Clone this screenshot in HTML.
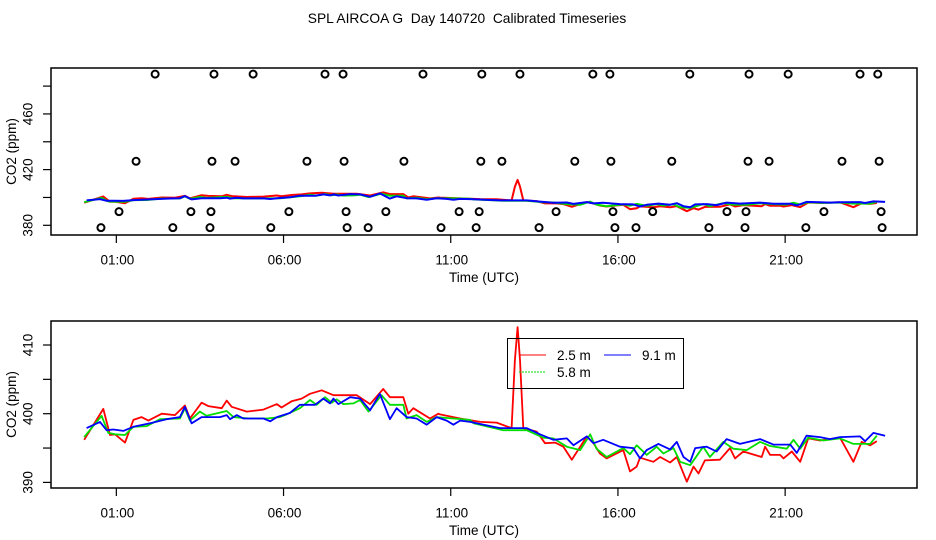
<!DOCTYPE html>
<html><head><meta charset="utf-8"><style>
html,body{margin:0;padding:0;background:#fff;}
svg{display:block;font-family:"Liberation Sans",Arial,sans-serif;}
</style></head><body>
<svg id="chart" width="936" height="540" viewBox="0 0 936 540" xmlns="http://www.w3.org/2000/svg">
<text x="467" y="23" text-anchor="middle" font-size="13.8" style="white-space:pre" xml:space="preserve">SPL AIRCOA G  Day 140720  Calibrated Timeseries</text>
<g id="top"></g>
<g id="bot"></g>
</svg>
<script>
// ---- data ----
const xTickHours = [1, 6, 11, 16, 21];
const xTickLabels = ["01:00", "06:00", "11:00", "16:00", "21:00"];
const topYTicks = [380, 400, 420, 440, 460, 480];
const topYLabels = ["380", "", "420", "", "460", ""];
const botYTicks = [390, 395, 400, 405, 410];
const botYLabels = ["390", "", "400", "", "410"];

const redT = [0.04,0.61,0.81,0.96,1.26,1.51,1.75,1.96,2.36,2.75,3.05,3.20,3.55,3.75,4.15,4.30,4.45,4.90,5.40,5.80,5.94,6.24,6.54,6.79,7.14,7.49,8.19,8.59,8.98,9.18,9.58,9.73,9.88,10.38,10.63,10.68,11.28,11.88,12.37,12.82,12.92,13.00,13.07,13.17,13.57,13.82,14.12,14.37,14.62,14.87,15.07,15.27,15.46,15.66,16.16,16.36,16.56,16.66,17.06,17.26,17.56,17.76,18.06,18.26,18.41,18.60,19.05,19.35,19.50,19.75,20.30,20.40,20.55,20.85,20.95,21.20,21.45,21.69,22.04,22.64,23.04,23.29,23.54,23.74];
const redV = [396.2,400.7,396.9,397.0,395.8,399.1,399.5,399.0,400.0,399.8,401.2,399.3,401.6,401.1,400.8,401.9,401.0,400.3,400.6,401.4,400.9,401.8,402.2,402.9,403.4,402.7,402.7,401.4,403.6,402.4,402.4,400.0,400.8,399.3,400.0,399.9,399.3,398.8,398.7,397.9,407.8,412.6,407.8,397.9,397.4,395.7,395.8,395.2,393.3,395.2,396.7,395.7,394.2,393.5,394.7,391.6,392.3,393.6,393.0,393.7,392.9,393.7,390.1,392.3,391.3,393.2,393.3,395.0,393.5,394.5,393.7,395.2,394.0,394.0,393.5,394.5,393.0,396.4,396.1,396.5,393.0,395.9,395.4,396.0];
const greenT = [0.04,0.56,0.76,0.96,1.26,1.51,1.91,2.31,2.90,3.05,3.20,3.50,3.70,4.30,4.50,4.98,5.50,5.89,6.09,6.49,6.79,6.99,7.24,7.44,7.59,7.79,8.09,8.29,8.54,8.93,9.18,9.58,9.68,9.98,10.28,10.58,11.08,11.58,11.68,12.57,13.27,13.77,14.07,14.47,14.87,15.17,15.36,15.66,16.16,16.36,16.56,16.86,17.16,17.36,17.66,17.86,18.16,18.55,18.75,19.15,19.45,19.85,20.25,20.55,21.05,21.25,21.45,21.69,22.14,22.64,23.04,23.54,23.74];
const greenV = [396.6,399.7,397.2,397.0,396.9,398.1,398.2,399.2,399.3,400.8,399.0,400.3,399.7,400.4,399.5,399.3,399.3,399.5,399.9,400.8,402.0,401.3,402.4,401.6,402.1,401.4,401.5,402.0,400.3,402.7,401.3,401.3,399.3,399.8,398.8,399.5,399.3,399.1,398.6,397.6,397.6,396.5,396.4,395.2,394.7,397.0,394.9,393.7,395.0,394.1,395.4,394.0,395.2,394.2,395.0,393.0,392.5,395.2,393.7,395.9,394.9,394.7,395.9,395.3,394.9,396.2,394.9,396.5,396.1,396.4,395.6,395.6,396.8];
const blueT = [0.11,0.51,0.71,0.91,1.21,1.51,2.01,2.50,2.90,3.05,3.25,3.55,4.10,4.30,4.40,4.60,4.80,5.40,5.60,5.80,6.19,6.49,6.94,7.19,7.39,7.49,7.64,7.99,8.29,8.59,8.88,9.18,9.38,9.68,9.98,10.28,10.58,10.88,11.08,11.28,11.58,12.47,13.27,13.67,14.07,14.47,14.67,15.07,15.27,15.56,16.06,16.46,16.66,16.86,17.21,17.56,17.76,17.96,18.16,18.31,18.65,18.95,19.25,19.65,20.25,20.65,21.15,21.35,21.64,22.04,22.34,22.64,23.24,23.39,23.64,23.99];
const blueV = [397.9,398.8,397.6,397.7,397.5,398.1,398.6,399.2,399.5,401.0,398.6,399.5,399.5,399.8,399.2,399.8,399.3,399.3,398.9,399.5,400.1,401.3,401.3,402.2,401.5,402.2,401.4,402.4,402.2,400.5,402.9,399.2,400.8,399.5,399.3,398.4,399.5,399.0,398.4,399.0,398.8,397.9,397.9,397.0,396.2,396.4,395.4,396.7,395.7,396.2,395.2,395.0,393.5,394.7,395.6,394.8,395.9,393.7,393.0,395.0,395.2,394.5,396.3,395.6,396.3,395.5,395.5,394.3,396.8,396.6,396.3,396.6,396.7,396.0,397.2,396.8];

const flagT = [2.16,3.92,5.09,7.24,7.78,10.17,11.93,13.07,15.25,15.76,18.15,19.92,21.09,23.24,23.77,
  1.59,3.86,4.55,6.70,7.81,9.60,11.90,12.53,14.71,15.79,17.61,19.89,20.52,22.70,23.81,
  1.08,3.23,3.83,6.16,7.87,9.06,11.25,11.85,14.15,15.85,17.04,19.26,19.83,22.16,23.87,
  0.54,2.69,3.80,5.62,7.90,8.53,10.71,11.76,13.64,15.91,16.54,18.72,19.80,21.62,23.90];
const flagV = [488.6,488.6,488.6,488.6,488.6,488.6,488.6,488.6,488.6,488.6,488.6,488.6,488.6,488.6,488.6,
  426,426,426,426,426,426,426,426,426,426,426,426,426,426,426,
  389.8,389.8,389.8,389.8,389.8,389.8,389.8,389.8,389.8,389.8,389.8,389.8,389.8,389.8,389.8,
  378.3,378.3,378.3,378.3,378.3,378.3,378.3,378.3,378.3,378.3,378.3,378.3,378.3,378.3,378.3];

// ---- drawing ----
const NS = "http://www.w3.org/2000/svg";
function mk(parent, tag, attrs, text){
  const e = document.createElementNS(NS, tag);
  for (const k in attrs) e.setAttribute(k, attrs[k]);
  if (text !== undefined) e.textContent = text;
  parent.appendChild(e); return e;
}
const X0 = 51, X1 = 917;
const xs = h => 82.9 + h * 33.44;

function panel(g, top, bottom, yScale, yTicks, yLabels, lw){
  const box = mk(g, "rect", {x:X0, y:top, width:X1-X0, height:bottom-top, fill:"none", stroke:"#000", "stroke-width":1.5});
  
  
  xTickHours.forEach((h,i)=>{
    const x = xs(h);
    const t = mk(g, "line", {x1:x, x2:x, y1:bottom, y2:bottom+8, stroke:"#000", "stroke-width":1.2});
    
    
    const l = mk(g, "text", {x:x+1, y:bottom+29.5, "text-anchor":"middle", "font-size":13.5}, xTickLabels[i]);
    
    
  });
  const xt = mk(g, "text", {x:484, y:bottom+47, "text-anchor":"middle", "font-size":13.5}, "Time (UTC)");
  
  
  yTicks.forEach((v,i)=>{
    const y = yScale(v);
    const t = mk(g, "line", {x1:X0-8, x2:X0, y1:y, y2:y, stroke:"#000", "stroke-width":1.2});
    
    
    if (yLabels[i]) {
      const l = mk(g, "text", {x:0, y:0, "text-anchor":"middle", "font-size":13.5, transform:`translate(${X0-18.5},${y}) rotate(-90)`}, yLabels[i]);
      
      
    }
  });
  const yt = mk(g, "text", {x:0, y:0, "text-anchor":"middle", "font-size":13.5, transform:`translate(16,${(top+bottom)/2}) rotate(-90)`}, "CO2 (ppm)");
  
  
  const series = [[redT,redV,"#ff0000","series-2-5m"],[greenT,greenV,"#00dd00","series-5-8m"],[blueT,blueV,"#0000ff","series-9-1m"]];
  series.forEach(([T,V,c,n])=>{
    const d = T.map((h,i)=>(i?"L":"M")+xs(h).toFixed(1)+","+yScale(V[i]).toFixed(1)).join("");
    const p = mk(g, "path", {d:d, fill:"none", stroke:c, "stroke-width":lw, "stroke-linejoin":"round"});
    
    
  });
}

const topG = document.getElementById("top");
const yTop = v => 225.3 - (v-380)*1.392;
panel(topG, 68, 235, yTop, topYTicks, topYLabels, 2);
flagT.forEach((h,i)=>{
  const c = mk(topG, "circle", {cx:xs(h), cy:yTop(flagV[i]), r:3.5, fill:"none", stroke:"#000", "stroke-width":2});
  
  
});

const botG = document.getElementById("bot");
const yBot = v => 413.7 - (v-400)*6.87;
panel(botG, 321, 488, yBot, botYTicks, botYLabels, 1.8);

// legend
const lg = mk(botG, "g", {});


mk(lg, "rect", {x:507.5, y:338.5, width:176, height:50, fill:"none", stroke:"#000", "stroke-width":1});
const entries = [[519,355,"#ff0000","2.5 m",""],[604,355,"#0000ff","9.1 m",""],[519,372,"#00dd00","5.8 m","2,1"]];
entries.forEach(([x,y,c,t,da])=>{
  const e = mk(lg, "g", {});
  
  
  const a = {x1:x, x2:x+27, y1:y, y2:y, stroke:c, "stroke-width":1};
  if (da) a["stroke-dasharray"] = da;
  mk(e, "line", a);
  mk(e, "text", {x:x+38, y:y+5, "font-size":13.5}, t);
});
</script>
</body></html>
